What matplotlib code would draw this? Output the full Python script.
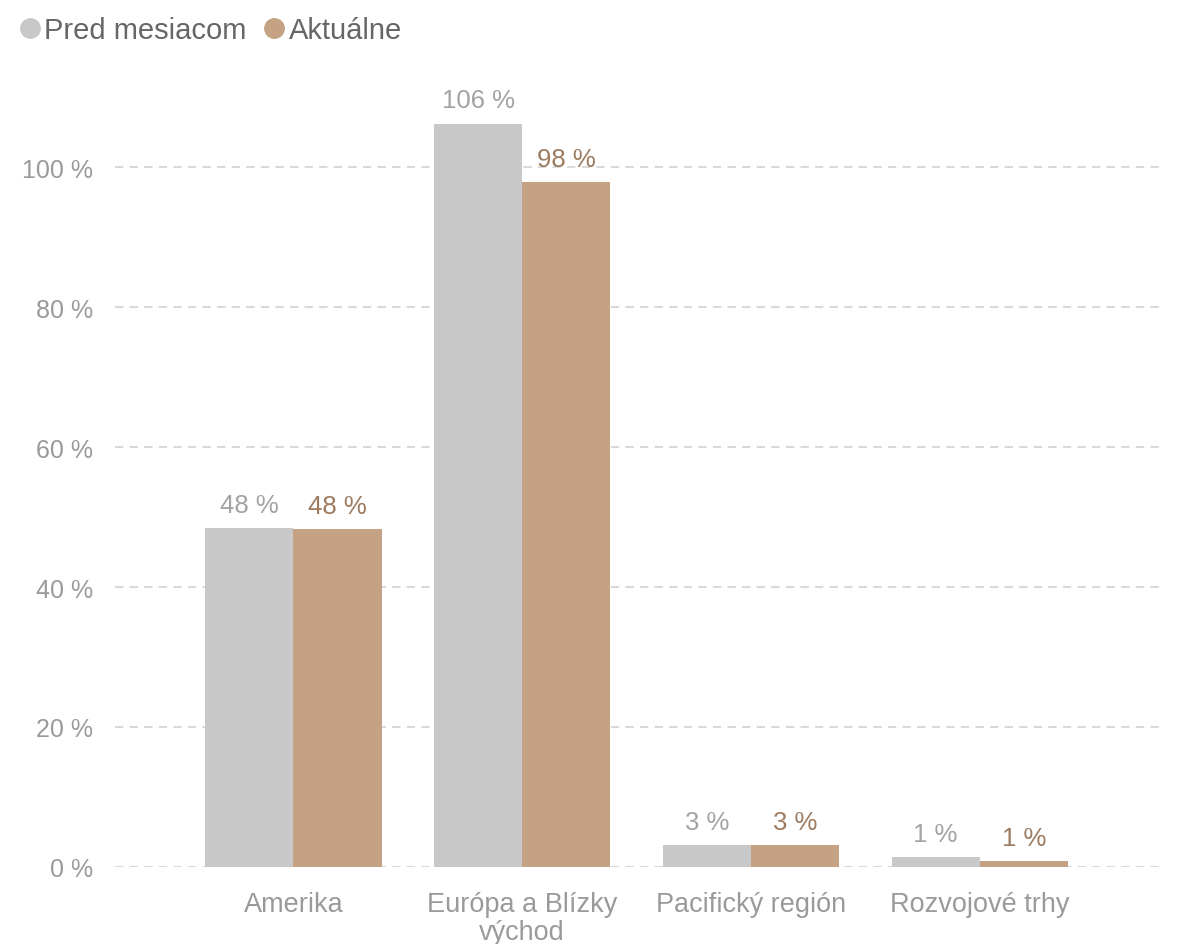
import matplotlib
matplotlib.use('Agg')
import matplotlib.pyplot as plt
from matplotlib.lines import Line2D
import numpy as np

plt.rcParams['font.family'] = ['Liberation Sans', 'DejaVu Sans']

categories = ['Amerika', 'Európa a Blízky\nvýchod', 'Pacifický región', 'Rozvojové trhy']
pred_mesiacom = [48.4, 106.2, 3.1, 1.4]
aktualne = [48.3, 97.9, 3.1, 0.9]
series_names = ['Pred mesiacom', 'Aktuálne']
yticks = [0, 20, 40, 60, 80, 100]

gray = '#c8c8c8'
tan = '#c4a283'
gray_txt = '#a3a3a3'
tan_txt = '#9c7b60'

fig = plt.figure(figsize=(11.82, 9.45), dpi=100)
ax = fig.add_axes([115 / 1182, 1 - 868 / 945, 1050 / 1182, 770 / 945])

x = np.arange(len(categories))
w = 0.385
b1 = ax.bar(x - w / 2, pred_mesiacom, w, color=gray, zorder=2)
b2 = ax.bar(x + w / 2, aktualne, w, color=tan, zorder=2)

for bars, vals, col in [(b1, pred_mesiacom, gray_txt), (b2, aktualne, tan_txt)]:
    for r, v in zip(bars, vals):
        ax.annotate(f'{round(v):.0f} %', (r.get_x() + r.get_width() / 2, v),
                    xytext=(0, 8), textcoords='offset points',
                    ha='center', va='bottom', fontsize=18.5, color=col)

ax.set_xlim(-0.78, 3.81)
ax.set_ylim(0, 110)
ax.set_yticks(yticks)
ax.set_yticklabels([f'{t} %' for t in yticks])
ax.set_xticks(x)
ax.set_xticklabels(categories, linespacing=1.1)
ax.tick_params(axis='y', length=0, pad=16, labelsize=18, labelcolor='#9a9a9a')
ax.tick_params(axis='x', length=0, pad=17, labelsize=19.5, labelcolor='#9a9a9a')
ax.grid(axis='y', color='#d9d9d9', linewidth=1.5, linestyle=(0, (4, 3)), zorder=1)
for s in ax.spines.values():
    s.set_visible(False)

handles = [Line2D([], [], marker='o', linestyle='', markersize=14, color=c) for c in (gray, tan)]
fig.legend(handles, series_names, loc='upper left', bbox_to_anchor=(-0.012, 1.01),
           ncol=2, frameon=False, fontsize=21, labelcolor='#666666',
           handletextpad=-0.1, columnspacing=0.35, handlelength=1.2)

fig.savefig('out.png', dpi=100)
